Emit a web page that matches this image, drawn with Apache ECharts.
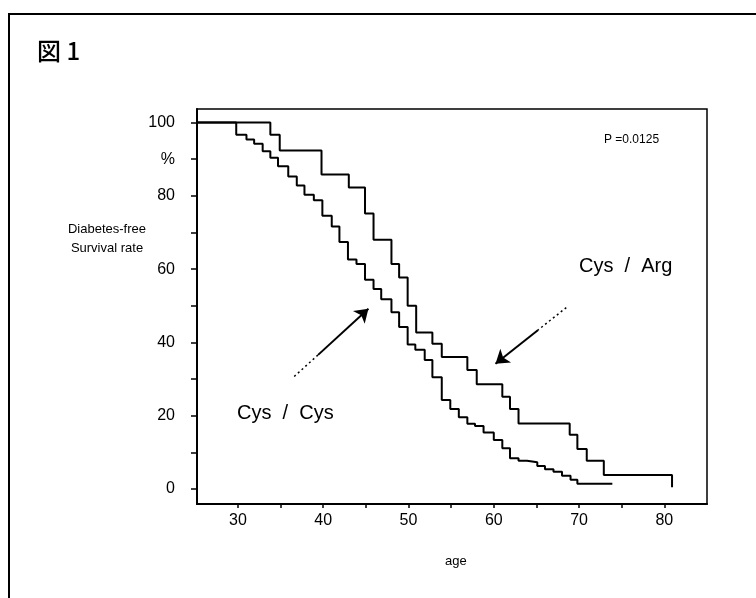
<!DOCTYPE html>
<html>
<head>
<meta charset="utf-8">
<script src="https://cdn.jsdelivr.net/npm/echarts@6/dist/echarts.min.js"></script>
<style>
  html, body { margin: 0; padding: 0; background: #fff; }
  #chart { width: 756px; height: 598px; }
</style>
</head>
<body>
<div id="chart"></div>
<script>
// Cys/Arg curve: age where the curve drops, value after the drop (%)
var argAges = [25, 33.8, 34.9, 39.8, 43.0, 44.9, 45.9, 48.0, 48.9, 49.9, 50.9, 52.8, 53.9,
  56.9, 58.0, 61.0, 61.9, 62.9, 68.9, 69.8, 70.9, 72.9, 80.9];
var argVals = [100, 96.7, 92.4, 85.8, 82.3, 75.2, 68.0, 61.4, 57.7, 50.0, 42.7, 39.6, 36.0,
  32.5, 28.6, 25.2, 21.8, 17.9, 14.8, 10.9, 7.7, 3.8, 0.5];

// Cys/Cys curve
var cysAges = [25, 29.8, 31.0, 31.9, 32.9, 33.8, 34.7, 35.9, 36.9, 37.8, 38.9, 39.9, 41.0,
  41.9, 42.9, 43.9, 44.9, 45.9, 46.8, 48.0, 48.9, 49.9, 50.8, 51.9, 52.8, 53.9, 54.9,
  55.9, 56.9, 57.8, 58.8, 60.0, 61.0, 61.9, 62.9, 63.9, 65.1, 66.0, 67.0, 68.0, 69.0,
  69.8, 73.9];
var cysVals = [100, 96.7, 95.4, 94.2, 92.2, 90.4, 88.1, 85.3, 82.8, 80.3, 78.8, 74.6, 71.6,
  67.4, 62.6, 61.4, 57.1, 54.6, 51.8, 48.2, 44.2, 39.4, 38.0, 35.2, 30.5, 24.3, 21.8,
  19.6, 17.8, 17.2, 15.4, 13.4, 11.1, 8.4, 7.7, 7.3, 6.3, 5.4, 4.7, 3.6, 2.5,
  1.4, 1.4];

var xTicks = [30, 35, 40, 45, 50, 55, 60, 65, 70, 75, 80];
var xLabels = [30, 40, 50, 60, 70, 80];
var yTicks = [0, 10, 20, 30, 40, 50, 60, 70, 80, 90, 100];
var yLabels = [0, 20, 40, 60, 80, 90, 100];

// arrows: [start, end of dotted part, tip] in data coords
var cysArrow = [[36.6, 30.7], [39.4, 36.6], [45.3, 49.2]];
var argArrow = [[68.5, 49.5], [65.2, 43.4], [60.2, 34.2]];

function pairs(a, v) {
  return a.map(function (x, i) { return [x, v[i]]; });
}

function arrowLines(arr) {
  return [
    [{ coord: arr[0], symbol: 'none', lineStyle: { type: [2, 3], width: 1.5 } },
     { coord: arr[1], symbol: 'none' }],
    [{ coord: arr[1], symbol: 'none', lineStyle: { type: 'solid', width: 2 } },
     { coord: arr[2], symbol: 'arrow' }]
  ];
}

var font = "'Liberation Sans', Arial, sans-serif";
var chart = echarts.init(document.getElementById('chart'));

var option = {
  backgroundColor: '#fff',
  animation: false,
  grid: {
    left: 197, right: 49, top: 109, bottom: 94,
    show: true, borderColor: '#000', borderWidth: 1.5, backgroundColor: 'transparent'
  },
  xAxis: {
    type: 'value', min: 25.2, max: 85,
    axisLine: { show: true, onZero: false, lineStyle: { color: '#000', width: 2 } },
    axisTick: { show: true, customValues: xTicks, length: 4, lineStyle: { color: '#000', width: 1.5 } },
    axisLabel: { customValues: xLabels, color: '#000', fontFamily: font, fontSize: 16, margin: 9 },
    splitLine: { show: false }
  },
  yAxis: {
    type: 'value', min: -4.1, max: 103.7,
    axisLine: { show: true, onZero: false, lineStyle: { color: '#000', width: 2 } },
    axisTick: { show: true, customValues: yTicks, length: 6, lineStyle: { color: '#000', width: 1.5 } },
    axisLabel: {
      customValues: yLabels, color: '#000', fontFamily: font, fontSize: 16, margin: 22,
      formatter: function (v) { return v === 90 ? '%' : String(v); }
    },
    splitLine: { show: false }
  },
  series: [
    {
      name: 'Cys / Arg', type: 'line', step: 'end', showSymbol: false,
      data: pairs(argAges, argVals),
      lineStyle: { color: '#000', width: 2 },
      markLine: {
        silent: true, symbolSize: 13, label: { show: false },
        lineStyle: { color: '#000' },
        data: arrowLines(argArrow)
      }
    },
    {
      name: 'Cys / Cys', type: 'line', step: 'end', showSymbol: false,
      data: pairs(cysAges, cysVals),
      lineStyle: { color: '#000', width: 2 },
      markLine: {
        silent: true, symbolSize: 13, label: { show: false },
        lineStyle: { color: '#000' },
        data: arrowLines(cysArrow)
      }
    }
  ],
  graphic: [
    // outer frame, cut at right and bottom like the scan
    { type: 'polyline', shape: { points: [[9, 598], [9, 14], [756, 14]] },
      style: { stroke: '#000', lineWidth: 2, fill: null } },
    { type: 'text', left: 37, top: 39,
      style: { text: '図 1', font: '500 24px "Noto Sans CJK JP", sans-serif', fill: '#000' } },
    { type: 'text', left: 604, top: 134,
      style: { text: 'P =0.0125', font: '12px ' + font, fill: '#000' } },
    { type: 'text', left: 579, top: 256,
      style: { text: 'Cys  /  Arg', font: '20px ' + font, fill: '#000' } },
    { type: 'text', left: 237, top: 403,
      style: { text: 'Cys  /  Cys', font: '20px ' + font, fill: '#000' } },
    { type: 'text', x: 107, y: 220,
      style: { text: 'Diabetes-free\nSurvival rate', font: '13px ' + font, fill: '#000',
        align: 'center', lineHeight: 19 } },
    { type: 'text', left: 445, top: 555,
      style: { text: 'age', font: '13px ' + font, fill: '#000' } }
  ]
};

chart.setOption(option);
</script>
</body>
</html>
